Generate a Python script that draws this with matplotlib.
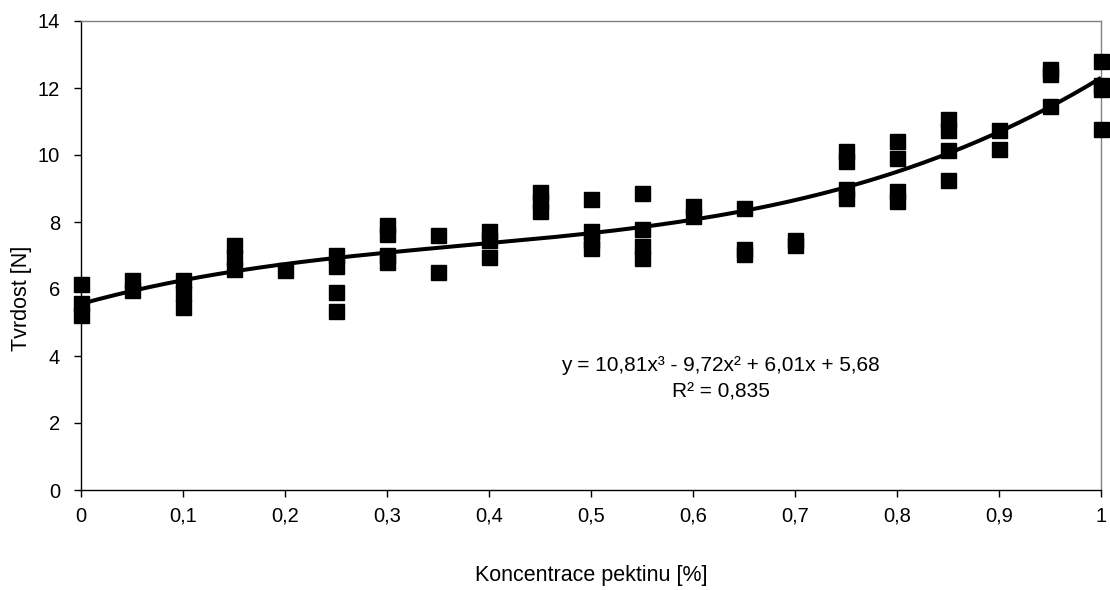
import numpy as np
import matplotlib
matplotlib.use("Agg")
import matplotlib.pyplot as plt

plt.rcParams['font.family'] = ['Liberation Sans', 'DejaVu Sans']

# concentration levels and measured hardness values
x_vals = [0, 0, 0,
          0.05, 0.05,
          0.1, 0.1, 0.1,
          0.15, 0.15, 0.15,
          0.2,
          0.25, 0.25, 0.25, 0.25,
          0.3, 0.3, 0.3, 0.3,
          0.35, 0.35,
          0.4, 0.4, 0.4,
          0.45, 0.45, 0.45,
          0.5, 0.5, 0.5, 0.5,
          0.55, 0.55, 0.55, 0.55,
          0.6, 0.6,
          0.65, 0.65, 0.65,
          0.7, 0.7,
          0.75, 0.75, 0.75, 0.75,
          0.8, 0.8, 0.8, 0.8,
          0.85, 0.85, 0.85, 0.85,
          0.9, 0.9,
          0.95, 0.95, 0.95,
          1.0, 1.0, 1.0, 1.0]
y_vals = [6.15, 5.58, 5.22,
          6.27, 5.97,
          6.27, 5.88, 5.46,
          7.31, 6.96, 6.60,
          6.58,
          7.01, 6.69, 5.90, 5.34,
          7.91, 7.64, 7.01, 6.81,
          7.61, 6.52,
          7.73, 7.46, 6.96,
          8.90, 8.63, 8.33,
          8.70, 7.73, 7.46, 7.22,
          8.87, 7.78, 7.28, 6.93,
          8.48, 8.18,
          8.43, 7.19, 7.03,
          7.46, 7.31,
          10.12, 9.82, 8.99, 8.72,
          10.42, 9.91, 8.93, 8.63,
          11.07, 10.75, 10.15, 9.24,
          10.75, 10.19,
          12.57, 12.42, 11.45,
          12.82, 12.09, 11.97, 10.78]

equation_text = "y = 10,81x³ - 9,72x² + 6,01x + 5,68"
r2_text = "R² = 0,835"

x_ticks = [0, 0.1, 0.2, 0.3, 0.4, 0.5, 0.6, 0.7, 0.8, 0.9, 1.0]
x_tick_labels = ["0", "0,1", "0,2", "0,3", "0,4", "0,5", "0,6", "0,7", "0,8", "0,9", "1"]
y_ticks = [0, 2, 4, 6, 8, 10, 12, 14]

fig = plt.figure(figsize=(11.1, 5.9), dpi=100)
ax = fig.add_axes([81/1110, 1-490/590, (1101-81)/1110, (490-21)/590])

ax.plot(x_vals, y_vals, linestyle='none', marker='s', markersize=10.8,
        color='black', clip_on=False, zorder=3)

# cubic trendline fitted to the data
coefs = np.polyfit(x_vals, y_vals, 3)
xs = np.linspace(0, 1, 300)
ax.plot(xs, np.polyval(coefs, xs), color='black', linewidth=2.9,
        zorder=4, clip_on=False, solid_capstyle='butt')

ax.set_xlim(0, 1)
ax.set_ylim(0, 14)
ax.set_xticks(x_ticks)
ax.set_xticklabels(x_tick_labels)
ax.set_yticks(y_ticks)
ax.tick_params(axis='both', direction='out', length=5, width=1, labelsize=14.5,
               colors='black')
ax.tick_params(axis='x', pad=7)
ax.tick_params(axis='y', pad=10)

for s in ['top', 'right']:
    ax.spines[s].set_color('#808080')
    ax.spines[s].set_linewidth(1)
for s in ['left', 'bottom']:
    ax.spines[s].set_color('black')
    ax.spines[s].set_linewidth(1)

ax.set_xlabel("Koncentrace pektinu [%]", fontsize=15.5)
ax.xaxis.set_label_coords(0.5, -(575-490)/469, transform=ax.transAxes)
ax.xaxis.label.set_va('center')
ax.set_ylabel("Tvrdost [N]", fontsize=15.5)
ax.yaxis.set_label_coords(-(81-22)/1020, (490-298)/469, transform=ax.transAxes)
ax.yaxis.label.set_va('center')

ax.text(0.627, 3.73, equation_text, ha='center', va='center', fontsize=15)
ax.text(0.627, 2.93, r2_text, ha='center', va='center', fontsize=15)

fig.savefig("out.png", dpi=100)
